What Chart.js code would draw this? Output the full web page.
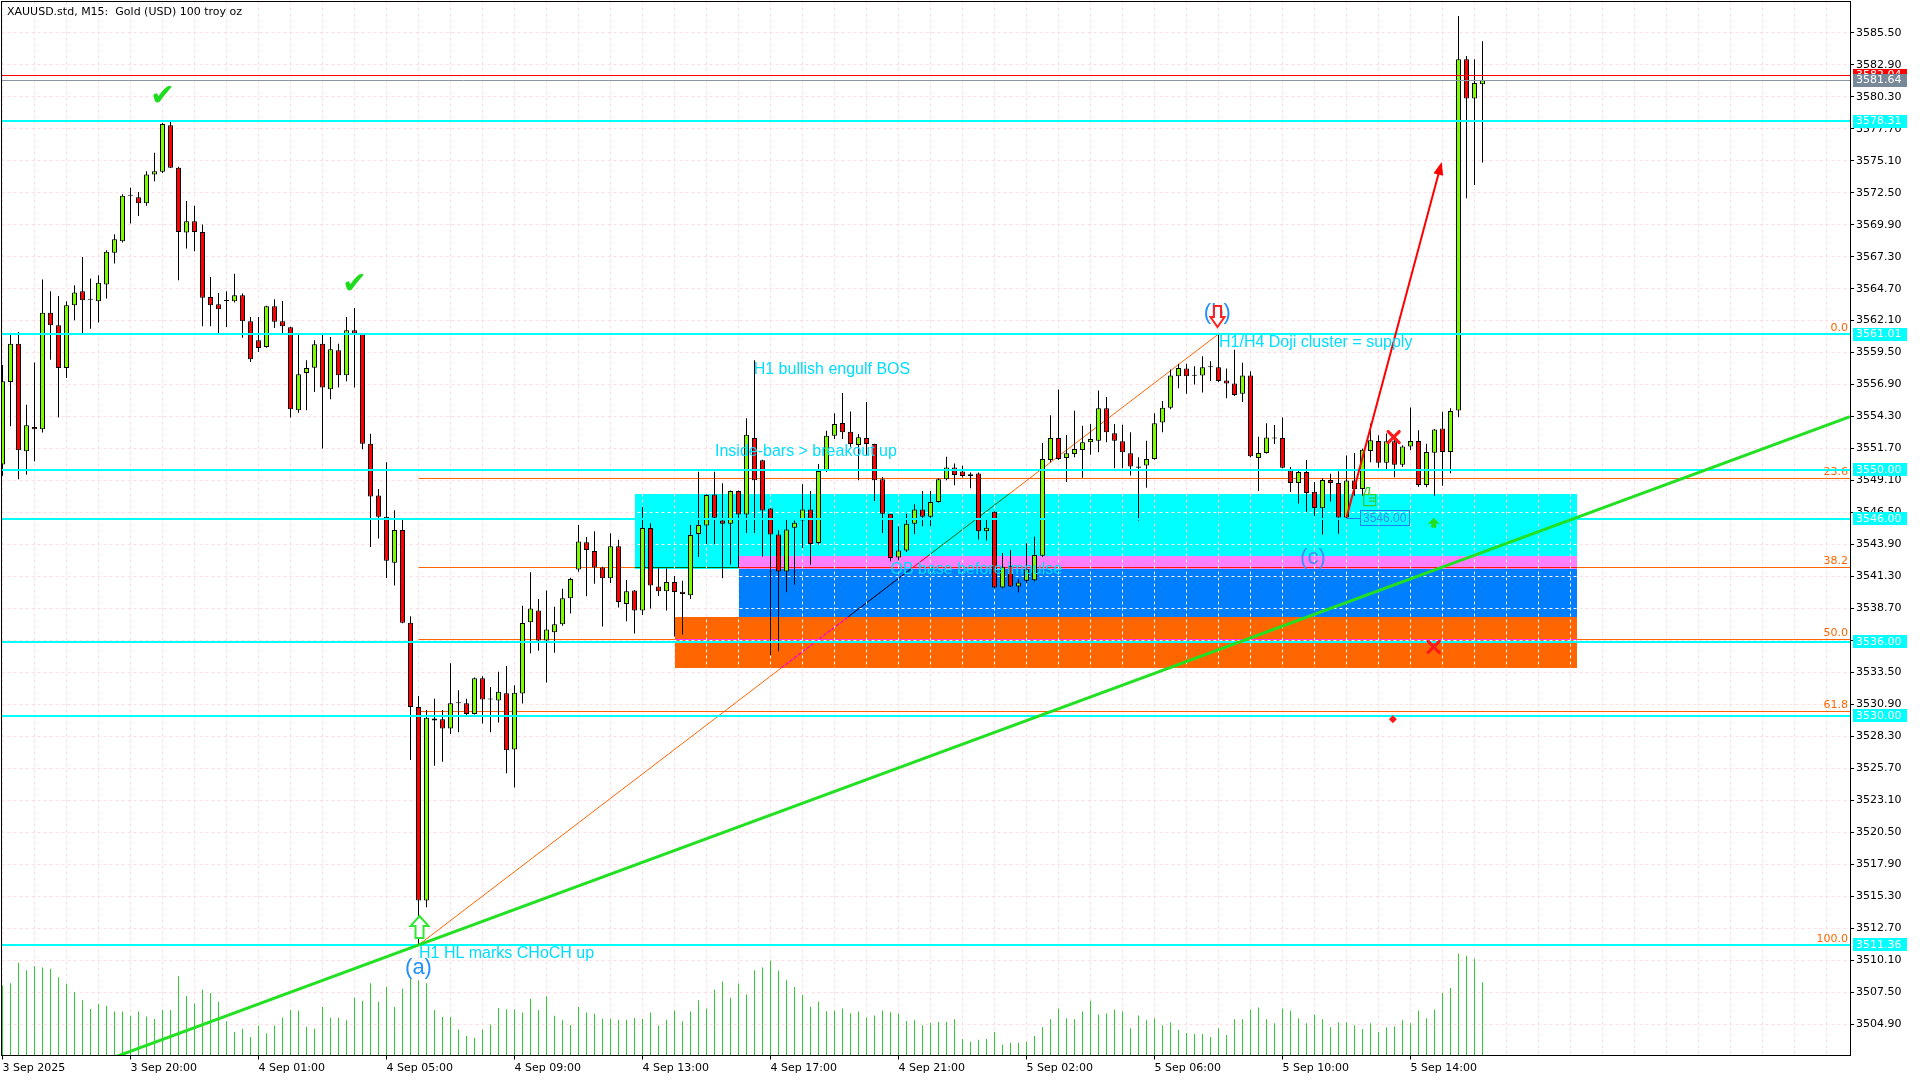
<!DOCTYPE html>
<html><head><meta charset="utf-8">
<script src="https://cdn.jsdelivr.net/npm/chart.js@4.4.1/dist/chart.umd.min.js"></script>
<style>html,body{margin:0;padding:0;background:#fff;overflow:hidden}canvas{display:block}</style>
</head><body>
<canvas id="c" width="1920" height="1080"></canvas>
<script>
// ---------------- DATA (XAUUSD.std M15, bar index 0 = 3 Sep 16:00) ----------------
const opens = [
3550.40,3557.12,3560.23,3551.48,3553.46,3553.27,3562.75,3561.72,3558.26,3563.35,
3564.49,3563.80,3563.68,3565.03,3567.61,3568.55,3572.24,3572.13,3571.64,3573.97,
3574.19,3577.98,3574.52,3569.26,3570.18,3569.31,3564.03,3563.43,3563.70,3563.68,
3564.16,3562.05,3560.50,3559.96,3563.27,3562.05,3561.56,3554.81,3557.85,3558.28,
3560.23,3556.53,3559.69,3557.66,3561.32,3561.05,3552.10,3547.88,3546.17,3542.43,
3545.08,3537.55,3530.70,3514.98,3529.76,3529.70,3528.95,3531.00,3531.00,3530.14,
3533.03,3531.32,3531.23,3531.82,3527.24,3531.79,3537.58,3538.54,3536.11,3536.77,
3537.42,3539.54,3541.87,3544.08,3543.37,3542.03,3541.16,3543.77,3539.07,3540.16,
3538.54,3545.24,3540.50,3540.10,3540.85,3540.07,3539.79,3544.77,3545.45,3547.98,
3545.86,3545.59,3548.26,3546.35,3552.56,3550.76,3546.84,3544.72,3541.72,3545.26,
3545.86,3546.76,3544.03,3549.89,3552.75,3553.79,3553.08,3551.99,3552.56,3552.07,
3549.21,3546.40,3542.86,3543.41,3545.59,3546.76,3546.16,3547.36,3549.21,3550.16,
3549.84,3549.48,3549.67,3544.99,3546.57,3540.41,3542.17,3540.50,3540.96,3541.00,
3543.00,3550.78,3552.56,3550.94,3551.27,3551.59,3552.21,3552.34,3554.98,3552.94,
3552.29,3551.32,3550.24,3550.32,3550.86,3553.82,3555.03,3557.59,3558.21,3557.62,
3557.65,3558.32,3558.32,3557.24,3557.00,3556.16,3557.65,3550.94,3551.35,3552.56,
3552.56,3549.92,3548.90,3549.79,3548.20,3546.86,3549.15,3548.91,3546.10,3549.10,
3548.42,3551.50,3552.32,3550.55,3552.29,3550.38,3551.88,3552.32,3548.74,3551.36,
3553.33,3551.42,3554.79,3583.34,3580.15,3581.31];
const highs = [
3558.50,3561.10,3561.18,3555.27,3558.69,3565.44,3564.49,3564.11,3563.68,3564.98,
3567.28,3565.52,3565.79,3567.82,3569.12,3572.38,3572.89,3572.56,3574.24,3575.74,
3578.17,3578.31,3574.60,3571.83,3571.43,3569.91,3565.65,3564.35,3564.49,3565.92,
3564.30,3562.40,3562.40,3563.30,3563.84,3563.70,3561.60,3561.05,3558.88,3560.50,
3560.97,3560.78,3560.23,3562.40,3563.13,3561.10,3552.90,3548.41,3550.59,3546.70,
3545.92,3538.08,3531.60,3530.45,3531.38,3530.45,3534.25,3532.07,3531.38,3533.10,
3533.20,3532.32,3533.56,3534.03,3532.47,3538.92,3541.66,3539.48,3540.16,3538.85,
3540.32,3541.20,3545.49,3544.52,3544.99,3542.10,3544.83,3544.30,3541.03,3540.20,
3546.95,3545.64,3542.03,3541.97,3541.35,3540.97,3545.49,3549.81,3548.00,3549.81,
3548.88,3548.30,3548.30,3554.17,3558.88,3550.80,3546.90,3545.07,3545.94,3545.86,
3548.80,3548.26,3550.44,3553.16,3554.58,3556.21,3554.71,3552.89,3555.48,3552.10,
3549.40,3546.40,3545.40,3546.40,3547.17,3548.26,3548.26,3549.30,3551.04,3550.49,
3550.30,3549.75,3549.75,3545.94,3546.60,3543.22,3543.46,3541.09,3544.00,3544.54,
3552.15,3554.42,3556.51,3552.80,3554.77,3553.55,3553.69,3556.43,3555.89,3553.69,
3553.63,3553.02,3551.00,3552.34,3554.58,3555.57,3558.13,3558.59,3558.59,3558.40,
3559.21,3558.80,3561.01,3558.21,3559.74,3558.67,3557.99,3552.67,3553.77,3553.61,
3554.23,3550.20,3549.92,3550.78,3548.98,3549.32,3549.65,3549.86,3551.15,3551.34,
3551.70,3553.74,3552.78,3552.92,3552.78,3551.97,3555.05,3553.19,3552.10,3553.30,
3554.69,3554.97,3586.85,3583.61,3583.34,3584.80];
const lows = [
3549.50,3553.51,3549.20,3549.58,3550.67,3553.00,3558.93,3554.22,3557.44,3562.13,
3561.00,3561.45,3561.94,3563.89,3566.74,3568.45,3570.00,3570.61,3571.43,3573.43,
3574.10,3574.50,3565.38,3567.96,3567.74,3561.64,3561.64,3561.05,3561.59,3563.57,
3560.70,3558.74,3559.56,3559.90,3561.51,3561.05,3554.22,3554.62,3554.81,3556.31,
3551.70,3555.71,3556.66,3557.17,3556.66,3551.64,3543.70,3544.40,3541.19,3540.57,
3537.50,3526.40,3511.36,3514.42,3525.93,3526.25,3528.50,3528.64,3529.90,3530.10,
3529.36,3528.64,3529.45,3525.31,3524.16,3530.98,3535.06,3535.27,3532.69,3535.12,
3537.30,3538.29,3541.70,3539.70,3540.72,3537.24,3540.78,3538.79,3537.67,3536.67,
3538.17,3538.70,3539.73,3538.54,3536.43,3536.60,3539.48,3542.90,3543.95,3543.95,
3541.17,3542.26,3541.99,3544.85,3544.85,3542.94,3534.91,3535.24,3540.03,3540.63,
3543.63,3542.26,3543.90,3549.80,3552.48,3552.48,3551.85,3549.13,3551.12,3547.44,
3544.85,3542.54,3542.60,3543.30,3544.77,3545.40,3545.40,3547.30,3549.13,3548.72,
3549.35,3548.47,3544.31,3544.23,3540.35,3540.35,3540.45,3540.01,3540.80,3540.90,
3542.90,3550.59,3550.78,3548.98,3551.00,3549.33,3551.21,3551.40,3552.21,3550.11,
3550.11,3549.52,3545.83,3548.52,3550.80,3553.02,3554.90,3556.60,3556.16,3556.92,
3556.25,3557.19,3557.10,3555.79,3555.98,3555.49,3551.00,3548.25,3551.30,3552.07,
3550.10,3548.17,3547.23,3546.56,3546.23,3544.73,3547.41,3544.79,3546.00,3547.87,
3547.87,3550.60,3550.14,3550.05,3549.37,3550.20,3551.56,3548.61,3548.55,3547.87,
3548.69,3549.70,3554.25,3572.04,3573.12,3574.96];
const closes = [
3557.17,3560.23,3551.56,3553.59,3553.27,3562.75,3561.72,3558.26,3563.35,3564.38,
3563.76,3563.82,3565.17,3567.69,3568.72,3572.24,3572.30,3571.64,3573.97,3574.24,
3578.07,3574.52,3569.31,3570.18,3569.31,3563.95,3563.35,3563.03,3563.72,3564.16,
3562.05,3558.96,3559.88,3563.27,3562.00,3561.64,3554.90,3557.74,3558.26,3560.18,
3556.66,3559.77,3557.66,3561.32,3561.05,3552.10,3547.80,3546.17,3542.59,3545.08,
3537.55,3530.70,3514.98,3529.83,3529.60,3528.95,3531.00,3531.02,3530.14,3533.03,
3531.32,3531.40,3531.94,3527.18,3531.85,3537.52,3538.70,3536.11,3536.99,3537.42,
3539.54,3541.10,3544.15,3543.46,3542.03,3541.16,3543.77,3539.23,3540.10,3538.54,
3545.24,3540.57,3540.10,3540.85,3540.04,3539.88,3544.68,3545.49,3547.93,3546.08,
3545.59,3548.26,3546.35,3552.83,3549.13,3546.68,3544.72,3541.72,3545.12,3545.67,
3546.76,3543.95,3549.89,3552.75,3553.70,3553.02,3552.07,3552.62,3552.07,3549.13,
3546.40,3542.81,3543.41,3545.59,3546.76,3546.16,3547.36,3549.21,3550.16,3549.56,
3549.48,3549.62,3544.99,3545.26,3540.41,3542.10,3540.50,3540.82,3541.90,3543.05,
3550.86,3552.56,3550.86,3551.32,3551.67,3552.21,3552.48,3554.98,3553.02,3552.34,
3551.40,3550.24,3550.14,3550.86,3553.77,3555.03,3557.65,3558.26,3557.59,3557.64,
3558.32,3558.34,3557.19,3557.00,3556.06,3557.65,3551.08,3551.35,3552.61,3552.53,
3550.14,3548.90,3549.79,3548.10,3546.88,3549.15,3548.91,3546.10,3549.10,3548.42,
3551.61,3552.37,3550.55,3552.29,3550.38,3551.88,3552.32,3548.74,3551.42,3553.25,
3551.42,3554.75,3583.34,3580.15,3581.42,3581.64];
const volumes = [
2150,2220,2850,2620,2750,2700,2660,2400,2200,1950,
1700,1430,1580,1520,1350,1350,1220,1350,1200,1120,
1400,1400,2430,1830,1600,2020,1920,1650,1050,720,
820,570,920,680,920,1170,1400,1380,880,820,
1490,1160,1160,1080,1780,1680,2220,1650,2100,1490,
2050,2400,2300,2220,1400,1180,1180,800,600,540,
800,950,1460,1420,1420,1320,1740,1400,1820,1220,
1080,940,1490,1320,1280,1130,1130,1100,1100,1150,
1120,1320,920,1100,1380,1050,1350,1700,1440,2020,
2270,1770,2210,1880,2620,2700,2910,2610,2310,2100,
1860,1500,1650,1360,1380,1440,1300,1350,1170,1230,
1380,1330,1290,1060,1080,930,1000,1030,1030,1110,
510,420,480,510,720,330,390,390,420,600,
870,1110,1440,1140,1110,1350,1680,1260,1290,1410,
1350,840,1230,1080,1140,930,1020,780,690,660,
660,570,840,630,1110,1110,1410,1470,1110,990,
1440,1380,1140,990,1260,1110,870,1020,1020,930,
810,990,720,870,900,1080,990,1380,1140,1410,
1920,2070,3120,3060,2980,2250];

const xLabelIdx  = [0,16,32,48,64,80,96,112,128,144,160,176];
const xLabelText = ['3 Sep 2025','3 Sep 20:00','4 Sep 01:00','4 Sep 05:00','4 Sep 09:00','4 Sep 13:00',
                    '4 Sep 17:00','4 Sep 21:00','5 Sep 02:00','5 Sep 06:00','5 Sep 10:00','5 Sep 14:00'];
const yTickValues = [3504.90,3507.50,3510.10,3512.70,3515.30,3517.90,3520.50,3523.10,3525.70,3528.30,
  3530.90,3533.50,3536.10,3538.70,3541.30,3543.90,3546.50,3549.10,3551.70,3554.30,3556.90,3559.50,
  3562.10,3564.70,3567.30,3569.90,3572.50,3575.10,3577.70,3580.30,3582.90,3585.50];

// horizontal levels
const levelPrices = [3578.31, 3561.01, 3550.00, 3546.00, 3536.00, 3530.00, 3511.36];
const bidPrice = 3581.64;
const askPrice = 3582.04;
// fibonacci
const fibLevels = [0, 23.6, 38.2, 50, 61.8, 100];
const fibHigh = 3561.01, fibLow = 3511.36, fibLowBar = 52, fibHighBar = 152;
// zones (bar index / price)
const boxStart  = [79, 92, 84];
const boxEnd    = [196.75, 196.75, 196.75];
const boxTop    = [3548.00, 3542.96, 3537.99];
const boxBottom = [3541.95, 3537.99, 3533.90];
const boxColor  = ['#00FFFF', '#0080FF', '#FF6600'];
// trend line and projection arrow
const trendBars = [52, 230.9], trendPrices = [3511.36, 3554.28];
const arrowBars = [168, 179.9], arrowPrices = [3546.10, 3575.00];
// text notes
const noteText  = ['H1 bullish engulf BOS','Inside-bars > breakout up','OB base before impulse',
                   'H1/H4 Doji cluster = supply','H1 HL marks CHoCH up'];
const noteBar   = [93.9, 89.06, 111.0, 152.06, 52.06];
const notePrice = [3558.16, 3551.43, 3541.84, 3560.28, 3510.70];
// wave labels
const waveText = ['(a)','(b)','(c)'];
const waveBar = [52, 151.85, 163.8];
const wavePrice = [3509.5, 3562.7, 3542.8];
// markers
const checkBar = [20, 44], checkPrice = [3580.27, 3564.99];
const crossBar = [173.9, 178.9], crossPrice = [3552.64, 3535.58];
const priceTag = {bar: 168, labelBar: 169.7, price: 3546.00};

const bullColor = '#7CFC00', bearColor = '#FF0000', volColor = '#32CD32';
const gridColor = '#FFDDE3', cyan = '#00FFFF', fibColor = '#FF6600', noteColor = '#00DDFF';

// ---------------- helpers ----------------
const inv = h => { const n = parseInt(h.slice(1), 16); return `rgb(${255-(n>>16&255)},${255-(n>>8&255)},${255-(n&255)})`; };
const al = p => Math.round(p - 0.5) + 0.5;
function seg(ctx, x1, y1, x2, y2) { ctx.beginPath(); ctx.moveTo(x1, y1); ctx.lineTo(x2, y2); ctx.stroke(); }

const annot = {
  id: 'annot',
  beforeDraw(chart) {
    const c = chart.ctx; c.save(); c.fillStyle = '#fff'; c.fillRect(0, 0, chart.width, chart.height); c.restore();
  },
  beforeDatasetsDraw(chart) {
    const c = chart.ctx, a = chart.chartArea, xs = chart.scales.x, ys = chart.scales.y;
    const X = v => xs.getPixelForValue(v), Y = v => ys.getPixelForValue(v);
    c.save();
    c.beginPath(); c.rect(a.left, a.top, a.right - a.left, a.bottom - a.top); c.clip();
    // fibonacci (background object)
    const fp = l => fibHigh - l / 100 * (fibHigh - fibLow);
    c.strokeStyle = fibColor; c.lineWidth = 1;
    fibLevels.forEach(l => { const y = al(Y(fp(l))); seg(c, X(fibLowBar), y, a.right, y); });
    seg(c, X(fibLowBar), Y(fibLow), X(fibHighBar), Y(fibHigh));
    c.fillStyle = fibColor; c.font = '11px "DejaVu Sans"'; c.textAlign = 'right'; c.textBaseline = 'bottom';
    fibLevels.forEach(l => c.fillText(l.toFixed(1), a.right - 2, Y(fp(l)) - 0.5));
    // zones, xor-like blending
    c.globalCompositeOperation = 'difference';
    const rects = boxStart.map((s, k) => {
      const x1 = Math.round(X(s)), x2 = Math.round(X(boxEnd[k]));
      const y1 = Math.round(Y(boxTop[k])), y2 = Math.round(Y(boxBottom[k]));
      return [x1, y1, x2 - x1, y2 - y1];
    });
    rects.forEach((r, k) => { c.fillStyle = inv(boxColor[k]); c.fillRect(r[0], r[1], r[2], r[3]); });
    c.globalCompositeOperation = 'source-over';
    // grid shows light over the zones
    c.save();
    c.beginPath(); rects.forEach(r => c.rect(r[0], r[1], r[2], r[3])); c.clip();
    c.strokeStyle = '#FFFFFF'; c.lineWidth = 1; c.setLineDash([3, 3]);
    xs.ticks.forEach(t => { const x = al(X(t.value)); seg(c, x, a.top, x, a.bottom); });
    ys.ticks.forEach(t => { const y = al(Y(t.value)); seg(c, a.left, y, a.right, y); });
    c.restore();
    c.restore();
  },
  afterDatasetsDraw(chart) {
    const c = chart.ctx, a = chart.chartArea, xs = chart.scales.x, ys = chart.scales.y;
    const X = v => xs.getPixelForValue(v), Y = v => ys.getPixelForValue(v);
    c.save();
    c.beginPath(); c.rect(a.left, a.top, a.right - a.left, a.bottom - a.top); c.clip();
    // horizontal levels
    c.strokeStyle = cyan; c.lineWidth = 2;
    levelPrices.forEach(p => { const y = Math.round(Y(p)); seg(c, a.left, y, a.right, y); });
    c.lineWidth = 1;
    c.strokeStyle = '#FF0000'; { const y = al(Y(askPrice)); seg(c, a.left, y, a.right, y); }
    c.strokeStyle = '#8C96A0'; { const y = al(Y(bidPrice)); seg(c, a.left, y, a.right, y); }
    // green trend line (extended both ways)
    const slope = (trendPrices[1] - trendPrices[0]) / (trendBars[1] - trendBars[0]);
    const xa = xs.min, xb = xs.max;
    c.strokeStyle = '#22E022'; c.lineWidth = 3;
    seg(c, X(xa), Y(trendPrices[0] + (xa - trendBars[0]) * slope), X(xb), Y(trendPrices[0] + (xb - trendBars[0]) * slope));
    // red projection arrow
    {
      const x1 = X(arrowBars[0]), y1 = Y(arrowPrices[0]), x2 = X(arrowBars[1]), y2 = Y(arrowPrices[1]);
      const ang = Math.atan2(y2 - y1, x2 - x1), L = 13, W = 5;
      c.strokeStyle = '#FF0000'; c.fillStyle = '#FF0000'; c.lineWidth = 2;
      seg(c, x1, y1, x2 - Math.cos(ang) * L * 0.8, y2 - Math.sin(ang) * L * 0.8);
      c.beginPath(); c.moveTo(x2, y2);
      c.lineTo(x2 - Math.cos(ang) * L - Math.sin(ang) * W, y2 - Math.sin(ang) * L + Math.cos(ang) * W);
      c.lineTo(x2 - Math.cos(ang) * L + Math.sin(ang) * W, y2 - Math.sin(ang) * L - Math.cos(ang) * W);
      c.closePath(); c.fill();
    }
    // price tag 3546.00
    {
      const y = Y(priceTag.price) - 0.5, x0 = X(priceTag.bar), xl = Math.round(X(priceTag.labelBar));
      c.strokeStyle = '#1E7FF0'; c.lineWidth = 1;
      seg(c, x0, al(y), xl, al(y));
      c.strokeRect(xl + 0.5, Math.round(y - 8) + 0.5, 49, 15);
      c.fillStyle = '#3A8EEA'; c.font = '12px "Liberation Sans"'; c.textAlign = 'left'; c.textBaseline = 'middle';
      c.fillText(priceTag.price.toFixed(2), xl + 3, y + 0.5);
    }
    // notes
    c.font = '16px "Liberation Sans"'; c.fillStyle = noteColor; c.textAlign = 'left'; c.textBaseline = 'middle';
    noteText.forEach((t, k) => c.fillText(t, X(noteBar[k]), Y(notePrice[k])));
    // check marks
    c.font = 'bold 30px "DejaVu Sans"'; c.fillStyle = '#1EDC1E'; c.textAlign = 'center'; c.textBaseline = 'middle';
    checkBar.forEach((b, k) => c.fillText('\u2714', X(b), Y(checkPrice[k])));
    // wave labels
    c.font = '22px "Liberation Sans"'; c.textAlign = 'center'; c.textBaseline = 'middle';
    waveText.forEach((t, k) => { c.fillStyle = k === 2 ? '#4A8CF8' : '#1E90FF'; c.fillText(t, X(waveBar[k]), Y(wavePrice[k])); });
    // hollow green up arrow under the low
    {
      const cx = Math.round(X(fibLowBar)) + 0.5, by = Math.round(Y(3511.9)), h = 22;
      c.beginPath();
      c.moveTo(cx, by - h); c.lineTo(cx + 9, by - h + 10); c.lineTo(cx + 4, by - h + 10); c.lineTo(cx + 4, by);
      c.lineTo(cx - 4, by); c.lineTo(cx - 4, by - h + 10); c.lineTo(cx - 9, by - h + 10); c.closePath();
      c.fillStyle = '#fff'; c.fill(); c.strokeStyle = '#33E633'; c.lineWidth = 2; c.stroke();
    }
    // hollow red down arrow at (b)
    {
      const cx = Math.round(X(151.75)) + 0.5, by = Math.round(Y(3561.6)), h = 21;
      c.beginPath();
      c.moveTo(cx, by); c.lineTo(cx + 7, by - 10); c.lineTo(cx + 3.5, by - 10); c.lineTo(cx + 3.5, by - h);
      c.lineTo(cx - 3.5, by - h); c.lineTo(cx - 3.5, by - 10); c.lineTo(cx - 7, by - 10); c.closePath();
      c.fillStyle = '#fff'; c.fill(); c.strokeStyle = '#FF2020'; c.lineWidth = 2; c.stroke();
    }
    // red crosses
    c.strokeStyle = '#FF1A1A'; c.lineWidth = 3.2; c.lineCap = 'round';
    crossBar.forEach((b, k) => {
      const x = X(b), y = Y(crossPrice[k]), s = 5.5;
      seg(c, x - s, y - s, x + s, y + s); seg(c, x + s, y - s, x - s, y + s);
    });
    c.lineCap = 'butt';
    // small red marker
    { const x = X(173.8), y = Y(3529.7); c.fillStyle = '#FF1A1A'; c.beginPath(); c.moveTo(x, y - 4); c.lineTo(x + 4, y); c.lineTo(x, y + 4); c.lineTo(x - 4, y); c.closePath(); c.fill(); }
    // small green up arrow
    { const x = X(178.9), y = Y(3545.6); c.fillStyle = '#22DD22'; c.beginPath();
      c.moveTo(x, y - 6); c.lineTo(x + 6, y); c.lineTo(x + 2.5, y); c.lineTo(x + 2.5, y + 4); c.lineTo(x - 2.5, y + 4); c.lineTo(x - 2.5, y); c.lineTo(x - 6, y); c.closePath(); c.fill(); }
    // thumbs-up sign
    { const x = X(170.9), y = Y(3547.8); c.strokeStyle = '#33CC33'; c.lineWidth = 1.3;
      c.beginPath(); c.moveTo(x - 6, y - 1); c.lineTo(x - 3, y - 9); c.lineTo(x, y - 9); c.lineTo(x - 1, y - 2); c.stroke();
      c.strokeRect(x - 6, y - 2, 12, 11);
      seg(c, x - 1, y + 1.5, x + 6, y + 1.5); seg(c, x - 1, y + 4.5, x + 6, y + 4.5); }
    c.restore();
  },
  afterDraw(chart) {
    const c = chart.ctx, a = chart.chartArea, ys = chart.scales.y;
    const Y = v => ys.getPixelForValue(v);
    c.save();
    // title
    c.fillStyle = '#000'; c.font = '11px "DejaVu Sans"'; c.textAlign = 'left'; c.textBaseline = 'middle';
    c.fillText('XAUUSD.std, M15:  Gold (USD) 100 troy oz', 7, 12);
    // frame
    c.strokeStyle = '#000'; c.lineWidth = 1;
    c.strokeRect(1.5, 1.5, Math.round(a.right) - 1, Math.round(a.bottom - 0.5) - 1);
    // price labels on the axis
    const tag = (p, bg, fg) => {
      const y = Y(p); c.fillStyle = bg; c.fillRect(a.right + 3, Math.round(y - 6.5), 54, 13);
      c.fillStyle = fg; c.fillText(p.toFixed(2), a.right + 6, Math.round(y) + 0.5);
    };
    c.font = '11px "DejaVu Sans"'; c.textBaseline = 'middle';
    tag(askPrice, '#FF0000', '#fff');
    tag(bidPrice, '#778899', '#fff');
    levelPrices.forEach(p => tag(p, cyan, '#fff'));
    c.restore();
  }
};

Chart.defaults.font.family = 'DejaVu Sans';
Chart.defaults.font.size = 11;
Chart.defaults.color = '#000';
const idx = opens.map((_, i) => i);
const chart = new Chart(document.getElementById('c').getContext('2d'), {
  type: 'bar',
  data: {
    datasets: [
      { label: 'Volume', yAxisID: 'yv', data: volumes.map((v, i) => ({x: i, y: v})), backgroundColor: volColor,
        maxBarThickness: 1, grouped: false, order: 3, inflateAmount: 0 },
      { label: 'Wick', yAxisID: 'y', data: idx.map(i => ({x: i, y: [lows[i], highs[i]]})), backgroundColor: '#000',
        maxBarThickness: 1, grouped: false, order: 2, inflateAmount: 0 },
      { label: 'Body', yAxisID: 'y', data: idx.map(i => ({x: i, y: [opens[i], closes[i]]})),
        backgroundColor: idx.map(i => closes[i] >= opens[i] ? bullColor : bearColor),
        borderColor: '#000', borderWidth: 1, borderSkipped: false, maxBarThickness: 5, minBarLength: 1,
        grouped: false, order: 1, inflateAmount: 0 }
    ]
  },
  options: {
    responsive: false, animation: false, devicePixelRatio: 1, events: [],
    layout: { padding: { left: 1.5, top: 1.5, right: 0, bottom: 0 } },
    plugins: { legend: { display: false }, tooltip: { enabled: false } },
    scales: {
      x: {
        type: 'linear', min: -0.125, max: 230.9375, offset: false,
        afterBuildTicks: s => { const t = []; for (let i = 0; i <= 228; i += 4) t.push({value: i}); s.ticks = t; },
        ticks: { autoSkip: false, maxRotation: 0, minRotation: 0, align: 'start', padding: 2, color: '#000',
                 font: { family: 'DejaVu Sans', size: 11 },
                 callback: v => { const k = xLabelIdx.indexOf(v); return k >= 0 ? xLabelText[k] : ''; } },
        grid: { color: gridColor, offset: false, drawTicks: true, tickLength: 4,
                tickColor: ctx => (ctx.tick && xLabelIdx.includes(ctx.tick.value)) ? '#000' : 'rgba(0,0,0,0)' },
        border: { display: false, dash: [3, 3] },
        afterFit: s => { s.height = 24.5; s.paddingLeft = 0; s.paddingRight = 0; }
      },
      y: {
        type: 'linear', position: 'right', min: 3502.38, max: 3588.035, beginAtZero: false,
        afterBuildTicks: s => { s.ticks = yTickValues.map(v => ({value: v})); },
        ticks: { autoSkip: false, padding: 2, color: '#000', font: { family: 'DejaVu Sans', size: 11 },
                 callback: v => Number(v).toFixed(2) },
        grid: { color: gridColor, drawTicks: true, tickLength: 4, tickColor: '#000' },
        border: { display: false, dash: [3, 3] },
        afterFit: s => { s.width = 70; s.paddingTop = 0; s.paddingBottom = 0; }
      },
      yv: { type: 'linear', display: false, min: 0, max: 32358, beginAtZero: true }
    }
  },
  plugins: [annot]
});
</script>
</body></html>
